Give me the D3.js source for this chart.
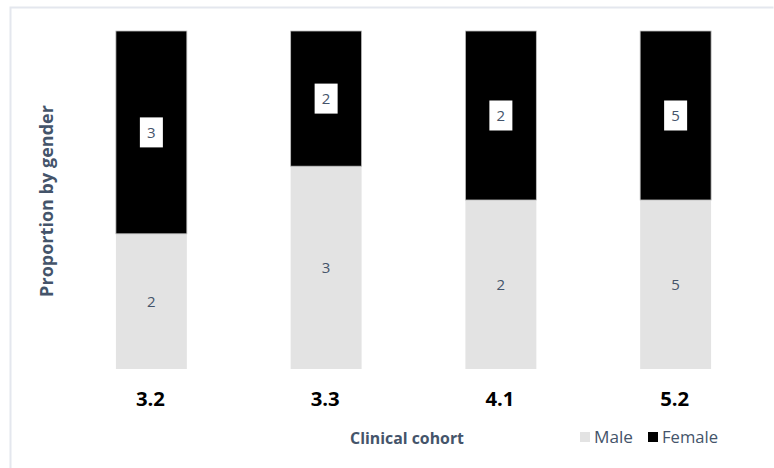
<!DOCTYPE html>
<html><head><meta charset="utf-8">
<script src="https://cdn.jsdelivr.net/npm/d3@7"></script>
<style>body{margin:0;background:#fff}svg{display:block}</style>
</head><body>
<svg id="c" width="774" height="468"></svg>
<script>
const cohorts = ["3.2", "3.3", "4.1", "5.2"];
const male = [2, 3, 2, 5];
const female = [3, 2, 2, 5];
const seriesNames = ["Male", "Female"];
const seriesColors = ["#E3E3E3", "#000000"];

const svg = d3.select("#c");
const W = 774, H = 468;
const font = "'Open Sans', 'Liberation Sans', sans-serif";
const slate = "#44546A";

// fit font-size so text reaches a target width
function fit(sel, target) {
  const fs = +sel.attr("font-size");
  const w = sel.node().getComputedTextLength();
  if (w > 0) sel.attr("font-size", (fs * target / w).toFixed(2));
  return sel;
}

// frame
svg.append("path").attr("d", `M10.5,${H} V7.5 H773.5`).attr("fill","none").attr("stroke","#E4E7EE").attr("stroke-width",2);

const data = cohorts.map((c,i)=>({cohort:c, Male:male[i], Female:female[i]}));
const stack = d3.stack().keys(seriesNames).offset(d3.stackOffsetExpand);
const series = stack(data);

const x = d3.scaleBand().domain(cohorts).range([64, 763]).paddingInner(0.594).paddingOuter(0.297);
const y = d3.scaleLinear().domain([0,1]).range([369, 31]);
const color = d3.scaleOrdinal().domain(seriesNames).range(seriesColors);

const g = svg.append("g");
series.forEach(s=>{
  const gg = g.append("g");
  gg.selectAll("rect").data(s).join("rect")
    .attr("x", d=>x(d.data.cohort))
    .attr("width", x.bandwidth())
    .attr("y", d=>y(d[1]))
    .attr("height", d=>y(d[0])-y(d[1]))
    .attr("fill", color(s.key))
    .attr("stroke", s.key==="Female" ? "#BFBFBF" : "none")
    .attr("stroke-width", 0.8);
});

// labels
series.forEach(s=>{
  s.forEach(d=>{
    const cx = x(d.data.cohort) + x.bandwidth()/2;
    const cy = (y(d[0])+y(d[1]))/2;
    const v = d.data[s.key];
    if (s.key==="Female") {
      g.append("rect").attr("x", cx-11.5).attr("y", cy-15).attr("width",23).attr("height",30).attr("fill","#fff");
    }
    g.append("text").attr("x",cx).attr("y",cy).attr("text-anchor","middle").attr("dy","0.36em")
      .attr("font-family",font).attr("font-size",15).attr("fill",slate).text(v);
  });
});

// x axis tick labels
const xa = svg.append("g").attr("transform","translate(0,369)")
  .call(d3.axisBottom(x).tickSize(0).tickPadding(0));
xa.select(".domain").remove();
xa.selectAll("text").attr("font-family",font).attr("font-size",18).attr("font-weight","bold").attr("fill","#000")
  .attr("y", 30).attr("dy","0.36em").attr("dx",-1);
xa.selectAll("text").each(function(){ fit(d3.select(this), 29); });

// axis titles
fit(svg.append("text").attr("x",407).attr("y",438).attr("dy","0.35em").attr("text-anchor","middle")
  .attr("font-family",font).attr("font-size",15).attr("font-weight","bold").attr("fill",slate).text("Clinical cohort"), 114);
fit(svg.append("text").attr("transform","translate(47,201) rotate(-90)").attr("dy","0.35em").attr("text-anchor","middle")
  .attr("font-family",font).attr("font-size",15).attr("font-weight","bold").attr("fill",slate).text("Proportion by gender"), 192);

// legend
const legX = [580, 648];
const legW = [39, 56];
seriesNames.forEach((n,i)=>{
  svg.append("rect").attr("x",legX[i]).attr("y",432).attr("width",10).attr("height",10).attr("fill",color(n));
  fit(svg.append("text").attr("x",legX[i]+14).attr("y",437).attr("dy","0.35em").attr("font-family",font).attr("font-size",16).attr("fill",slate).text(n), legW[i]);
});
</script>
</body></html>
